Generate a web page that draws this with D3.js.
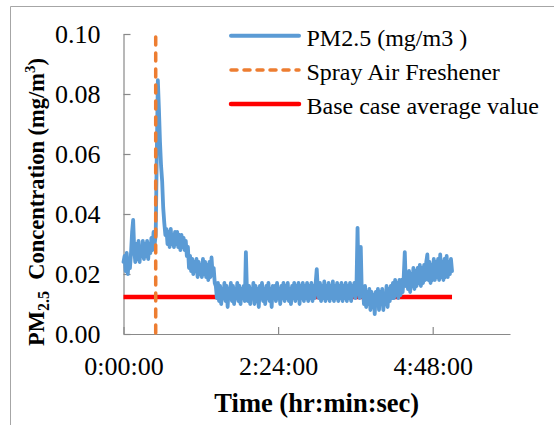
<!DOCTYPE html>
<html>
<head>
<meta charset="utf-8">
<script src="https://cdn.jsdelivr.net/npm/d3@7"></script>
<style>
  body { margin: 0; background: #fff; }
  svg text { font-family: "Liberation Serif", "Times New Roman", serif; fill: #000; }
</style>
</head>
<body>
<svg id="chart" width="554" height="425"></svg>
<script>
// PM2.5 logger readings (mg/m3), one sample per minute from 0:00:00
const sampleStartMin = 0;
const sampleStepMin = 1;
const pm25 = [
  0.024, 0.026, 0.021, 0.027, 0.020, 0.025, 0.022, 0.027, 0.034, 0.038,
  0.028, 0.024, 0.030, 0.025, 0.031, 0.024, 0.029, 0.026, 0.031, 0.025,
  0.030, 0.026, 0.031, 0.025, 0.030, 0.027, 0.032, 0.028, 0.034, 0.030,
  0.033, 0.060, 0.0846, 0.075, 0.064, 0.056, 0.051, 0.042, 0.037, 0.033,
  0.035, 0.030, 0.034, 0.029, 0.035, 0.030, 0.033, 0.029, 0.034, 0.030,
  0.034, 0.029, 0.033, 0.028, 0.033, 0.029, 0.032, 0.028, 0.031, 0.026,
  0.029, 0.022, 0.026, 0.021, 0.025, 0.020, 0.024, 0.021, 0.025, 0.019,
  0.024, 0.020, 0.023, 0.019, 0.025, 0.020, 0.024, 0.019, 0.023, 0.018,
  0.024, 0.019, 0.0255, 0.020, 0.022, 0.017, 0.016, 0.012, 0.017, 0.011,
  0.016, 0.010, 0.015, 0.012, 0.017, 0.011, 0.016, 0.009, 0.015, 0.012,
  0.017, 0.011, 0.016, 0.010, 0.015, 0.012, 0.017, 0.011, 0.016, 0.010,
  0.015, 0.012, 0.016, 0.011, 0.0273, 0.014, 0.011, 0.016, 0.010, 0.015,
  0.012, 0.017, 0.010, 0.016, 0.011, 0.015, 0.009, 0.016, 0.012, 0.017,
  0.011, 0.015, 0.010, 0.016, 0.012, 0.017, 0.011, 0.015, 0.009, 0.016,
  0.012, 0.016, 0.011, 0.017, 0.012, 0.015, 0.010, 0.016, 0.012, 0.017,
  0.011, 0.016, 0.012, 0.017, 0.011, 0.015, 0.010, 0.016, 0.012, 0.017,
  0.011, 0.016, 0.012, 0.017, 0.010, 0.016, 0.012, 0.017, 0.011, 0.016,
  0.012, 0.017, 0.011, 0.016, 0.012, 0.017, 0.011, 0.016, 0.012, 0.017,
  0.0216, 0.015, 0.012, 0.017, 0.011, 0.016, 0.012, 0.0175, 0.011, 0.016,
  0.012, 0.017, 0.011, 0.016, 0.012, 0.0175, 0.011, 0.016, 0.012, 0.017,
  0.011, 0.016, 0.012, 0.017, 0.011, 0.016, 0.012, 0.017, 0.011, 0.016,
  0.012, 0.017, 0.011, 0.016, 0.013, 0.017, 0.012, 0.016, 0.0354, 0.016,
  0.012, 0.029, 0.013, 0.015, 0.010, 0.016, 0.009, 0.014, 0.010, 0.015,
  0.008, 0.014, 0.009, 0.013, 0.0066, 0.014, 0.010, 0.015, 0.008, 0.014,
  0.010, 0.015, 0.008, 0.013, 0.010, 0.016, 0.009, 0.015, 0.011, 0.016,
  0.012, 0.017, 0.012, 0.018, 0.013, 0.017, 0.012, 0.018, 0.013, 0.018,
  0.014, 0.019, 0.0273, 0.016, 0.020, 0.015, 0.021, 0.014, 0.020, 0.016,
  0.022, 0.015, 0.021, 0.016, 0.022, 0.017, 0.023, 0.016, 0.022, 0.017,
  0.023, 0.018, 0.024, 0.0265, 0.018, 0.024, 0.017, 0.023, 0.018, 0.025,
  0.018, 0.024, 0.019, 0.025, 0.018, 0.0265, 0.019, 0.024, 0.018, 0.025,
  0.019, 0.026, 0.019, 0.024, 0.020, 0.025, 0.021
];

// Air freshener spray event (minutes) and the vertical marker it draws
const sprayTimeMin = 30;
const sprayMarker = [0, 0.099];

// Base case average concentration over the logging period
const baseCaseAvg = 0.0123;
const baseCaseSpanMin = [0, 306];

const xTicksMin = [0, 144, 288];
const yTicks = [0, 0.02, 0.04, 0.06, 0.08, 0.10];
const legendLabels = ["PM2.5 (mg/m3 )", "Spray Air Freshener", "Base case average value"];

const colors = { pm: "#5b9bd5", spray: "#ed7d31", base: "#ff0000", axis: "#898989", frame: "#a6a6a6" };
const serif = "'Liberation Serif', 'Times New Roman', serif";

const svg = d3.select("#chart");

// outer chart frame (top and left edges)
svg.append("path")
  .attr("d", "M10.5,425V6.5H554")
  .attr("fill", "none")
  .attr("stroke", colors.frame)
  .attr("stroke-width", 1);

const x = d3.scaleLinear().domain([0, 360]).range([123.5, 510]);
const y = d3.scaleLinear().domain([0, 0.1]).range([334, 34]);

const fmtTime = m => {
  const h = Math.floor(m / 60), mm = Math.round(m % 60);
  return `${h}:${String(mm).padStart(2, "0")}:00`;
};

const yAxis = svg.append("g")
  .attr("transform", `translate(${x(0)},0)`)
  .call(d3.axisLeft(y).tickValues(yTicks).tickFormat(d3.format(".2f"))
    .tickSizeInner(-7).tickSizeOuter(0).tickPadding(23));

const xAxis = svg.append("g")
  .attr("transform", `translate(0,${y(0)})`)
  .call(d3.axisBottom(x).tickValues(xTicksMin).tickFormat(fmtTime)
    .tickSizeInner(-7).tickSizeOuter(0).tickPadding(22.5));

[yAxis, xAxis].forEach(g => {
  g.attr("font-family", null).attr("font-size", null);
  g.select(".domain").attr("stroke", colors.axis).attr("stroke-width", 1.2);
  g.selectAll(".tick line").attr("stroke", colors.axis).attr("stroke-width", 1.2);
  g.selectAll(".tick text")
    .style("font-family", serif).style("font-size", "26px").attr("fill", "#000");
});

// base case average line
svg.append("line")
  .attr("x1", x(baseCaseSpanMin[0])).attr("x2", x(baseCaseSpanMin[1]))
  .attr("y1", y(baseCaseAvg)).attr("y2", y(baseCaseAvg))
  .attr("stroke", colors.base).attr("stroke-width", 4.5);

// PM2.5 series
const pmLine = d3.line()
  .x((d, i) => x(sampleStartMin + i * sampleStepMin))
  .y(d => y(d));

svg.append("path")
  .datum(pm25)
  .attr("d", pmLine)
  .attr("fill", "none")
  .attr("stroke", colors.pm)
  .attr("stroke-width", 3.8)
  .attr("stroke-linejoin", "round")
  .attr("stroke-linecap", "round");

// spray marker (dashed vertical)
svg.append("line")
  .attr("x1", x(sprayTimeMin)).attr("x2", x(sprayTimeMin))
  .attr("y1", y(sprayMarker[1])).attr("y2", y(sprayMarker[0]))
  .attr("stroke", colors.spray).attr("stroke-width", 3.5)
  .attr("stroke-dasharray", "8,8").attr("stroke-linecap", "round");

// legend
const legend = svg.append("g");
const legendRows = [
  { color: colors.pm, width: 4, dash: null },
  { color: colors.spray, width: 3.5, dash: "6,7" },
  { color: colors.base, width: 4.5, dash: null }
];
legendRows.forEach((r, i) => {
  const ly = 35.7 + i * 34.2;
  legend.append("line")
    .attr("x1", 231).attr("x2", 299).attr("y1", ly).attr("y2", ly)
    .attr("stroke", r.color).attr("stroke-width", r.width)
    .attr("stroke-linecap", "round")
    .attr("stroke-dasharray", r.dash);
  legend.append("text")
    .attr("x", 306.5).attr("y", ly + 10)
    .style("font-size", "24px")
    .text(legendLabels[i]);
});

// axis titles
svg.append("text")
  .attr("x", (x(0) + x(360)) / 2).attr("y", 411.5)
  .attr("text-anchor", "middle")
  .style("font-size", "26.5px").style("font-weight", "bold")
  .text("Time (hr:min:sec)");

const yTitle = svg.append("text")
  .attr("transform", "translate(44,202) rotate(-90)")
  .attr("text-anchor", "middle")
  .style("font-size", "22.5px").style("font-weight", "bold")
  .style("white-space", "pre");
yTitle.append("tspan").text("PM");
yTitle.append("tspan").style("font-size", "16px").attr("dy", 5).text("2.5");
yTitle.append("tspan").attr("dy", -5).text("  Concentration (mg/m");
yTitle.append("tspan").style("font-size", "15px").attr("dy", -9).text("3");
yTitle.append("tspan").attr("dy", 9).text(")");
</script>
</body>
</html>
